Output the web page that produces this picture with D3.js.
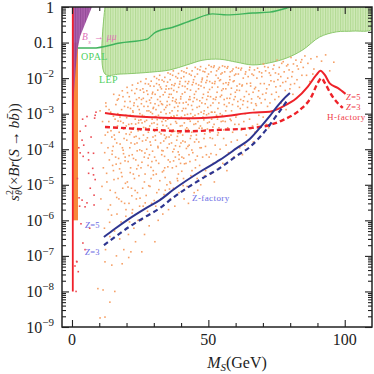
<!DOCTYPE html>
<html><head><meta charset="utf-8">
<script src="https://cdn.jsdelivr.net/npm/d3@7"></script>
<style>
body{margin:0;background:#fff}
text{font-family:"Liberation Serif","DejaVu Serif",serif}
</style>
</head><body>
<svg id="chart" width="374" height="374"></svg>
<script>
// ---- data (mass in GeV, s^2 * Br) ----
const xMajor = [0, 50, 100];
const xMinor = [10, 20, 30, 40, 60, 70, 80, 90];
const yDecades = [1e-9, 1e-8, 1e-7, 1e-6, 1e-5, 1e-4, 1e-3, 1e-2, 1e-1, 1];
const yLabels = ["−9", "−8", "−7", "−6", "−5", "−4", "−3", "−2", "0.1", "1"];

// LEP excluded region, lower edge
const lepEdge = [[12.1,1],[12.1,0.0131],[17.6,0.013],[29.7,0.0149],[35.9,0.017],[42.1,0.0235],[48,0.032],
  [54.2,0.034],[60.4,0.028],[66.3,0.0235],[72.5,0.027],[78.8,0.037],[84.6,0.062],[90.8,0.143],[97,0.2],
  [103,0.21],[110,0.24],[110,1]];
// OPAL bound
const opal = [[2.2,0.07],[7.7,0.07],[17.6,0.097],[27.5,0.125],[30.4,0.19],[37,0.27],[44.3,0.43],[51.6,0.64],
  [56.8,0.6],[66.3,0.68],[72.5,0.72],[78.8,0.94],[79.9,1]];
// Bs -> mu mu excluded region
const bsmm = [[0,1],[7.3,1],[6.8,0.8],[4.9,0.35],[3.0,0.15],[2.0,0.062],[1.4,0.02],[0.73,0.0038],[0.37,0.0013],[0,1e-3]];
// low-mass bands
const orangeBand = {m0: 0.3, m1: 2.2, top: 0.1, bottom: 1e-6};
const redBar = {m: 0.3, top: 1, bottom: 1e-8};

// H-factory reach
const hZ5 = [[12.1,1.05e-3],[17.6,9.2e-4],[29.7,7.9e-4],[42.1,7.4e-4],[54.2,8.2e-4],[66.3,1.07e-3],[72.5,1.14e-3],
  [77.3,1.58e-3],[82.3,2.7e-3],[86.4,5.7e-3],[89.6,1.23e-2],[91.1,1.62e-2],[92.7,1.23e-2],[94.5,7.1e-3],
  [97.4,5.3e-3],[100.3,3.6e-3]];
const hZ3 = [[12.1,4.2e-4],[17.6,4.0e-4],[29.7,3.5e-4],[42.1,3.2e-4],[54.2,3.5e-4],[65.2,3.9e-4],[72.5,4.8e-4],
  [77.3,6.6e-4],[83.5,1.27e-3],[87.8,3.0e-3],[90.1,7.3e-3],[91.5,1.0e-2],[92.7,7.3e-3],[95.1,3.4e-3],
  [97.4,2.0e-3],[99.3,1.45e-3]];
// Z-factory reach
const zZ5 = [[11.7,3.4e-7],[15.75,5.8e-7],[20.9,1.1e-6],[26.7,2.1e-6],[32.2,3.7e-6],[37,7.1e-6],[48,2.6e-5],
  [54.2,5.0e-5],[60.4,1.07e-4],[65.2,1.95e-4],[68.9,4.0e-4],[72.5,8.5e-4],[75.1,1.55e-3],[77.3,2.45e-3],[79.9,3.8e-3]];
const zZ3 = [[11.7,2.0e-7],[15.75,3.4e-7],[20.9,6.5e-7],[26.7,1.23e-6],[32.2,2.2e-6],[37,4.3e-6],[48,1.55e-5],
  [54.2,2.95e-5],[60.4,6.5e-5],[65.2,1.15e-4],[68.9,2.2e-4],[72.5,4.8e-4],[75.1,9.1e-4],[77.3,1.55e-3],[78.8,2.3e-3]];

// scan points, low mass (red)
const lowPts = [[3.9,7e-4],[5.5,8.3e-4],[3.0,3.2e-4],[3.7,1.8e-4],[4.3,1.3e-4],[2.5,1.1e-4],[3.0,7.9e-5],[7.9,7.7e-5],
  [6.1,5e-5],[7.6,2.9e-5],[6.1,2.1e-5],[7.9,1.9e-5],[8.5,1.4e-5],[6.7,8e-6],[3.7,3.7e-6],[5.5,3.1e-6],[8.1,5.1e-6],
  [2.6,4.3e-6],[4.8,2.4e-6],[8.1,2.7e-6],[1.8,6.8e-8],[1.1,5.2e-8],[1.7,7e-8],[2.3,3.6e-8],[1.5,1e-8],[4.0,2.3e-7],
  [4.8,1.5e-7],[4.1,6.3e-5],[6.0,8e-5],[8.5,9e-4],[8.8,1.1e-3],[8.3,7.5e-4],[5.0,4.5e-4],[7.0,2.2e-4],[2.0,1.5e-5],
  [3.3,8e-7],[6.5,6e-7],[2.8,2.5e-6]];

// scan points (orange), first pass
const scanPts = [
 [10.3,1.2e-3],[11.2,6e-4],[12.5,1.6e-3],[13.1,3e-4],[14.2,1.1e-3],[10.8,1.5e-4],[12.0,8e-5],[13.7,5e-5],[14.6,2.2e-4],
 [11.5,3e-5],[12.8,1.2e-5],[14.0,7e-6],[10.6,4e-6],[13.3,2e-6],[14.8,9e-5],[11.9,6e-7],[13.9,3.5e-7],[12.3,1.5e-7],
 [9.5,1.2e-8],[11.4,1.1e-8],[13.9,5e-9],[15.7,1e-8],[10.3,1.8e-9],[12.1,1.9e-9],[14.5,1.4e-6],[12.2,2.5e-4],[13.5,6e-4],
 [14.9,3.5e-5],[11.0,9e-6],[12.1,6.8e-8],[14.6,5.5e-8],
 [15.3,3.5e-3],[16.1,1.8e-3],[17.0,2.6e-3],[18.2,1.3e-3],[19.4,2.2e-3],[15.8,7e-4],[16.7,4.5e-4],[17.6,8e-4],[18.8,5.5e-4],
 [19.7,9e-4],[15.5,2.5e-4],[16.4,1.5e-4],[17.3,3e-4],[18.5,1.1e-4],[19.1,2e-4],[16.0,6e-5],[17.8,4e-5],[18.9,7.5e-5],
 [15.2,2.5e-5],[16.9,1.5e-5],[18.1,2.2e-5],[19.6,1.1e-5],[15.9,6e-6],[17.2,4e-6],[18.6,8e-6],[19.3,3e-6],[16.5,1.5e-6],
 [18.0,9e-7],[19.8,2e-6],[15.6,5e-7],[17.5,3e-7],[19.0,1.5e-7],[16.3,1e-7],[18.4,6e-8],[17.1,5.5e-5],[19.9,4.5e-4],
 [16.8,1e-3],[18.7,3e-3],[15.1,1.2e-4],[19.5,6e-5],[20.8,9e-8],
 [20.2,5.5e-3],[21.0,3e-3],[21.9,4.5e-3],[22.8,2e-3],[23.7,5e-3],[24.6,2.8e-3],[20.5,1.5e-3],[21.4,9e-4],[22.3,1.2e-3],
 [23.2,7e-4],[24.1,1.6e-3],[24.9,1e-3],[20.8,5e-4],[21.7,3e-4],[22.6,4e-4],[23.5,2.3e-4],[24.4,5.5e-4],[20.1,1.8e-4],
 [21.2,1.1e-4],[22.1,7e-5],[23.0,1.4e-4],[23.9,9e-5],[24.7,2e-4],[20.6,4.5e-5],[21.5,3e-5],[22.5,2e-5],[23.4,5e-5],
 [24.3,3.5e-5],[20.3,1.2e-5],[21.8,8e-6],[22.9,1.5e-5],[24.0,6e-6],[20.9,3e-6],[22.2,2e-6],[23.6,4e-6],[24.8,2.5e-6],
 [21.1,9e-7],[22.7,6e-7],[24.2,1e-6],[20.7,4e-7],[23.3,2.5e-7],[21.6,1.3e-7],[22.4,1.1e-3],[24.5,6.5e-4],[21.3,2.2e-3],
 [25.6,1.3e-7],
 [25.2,8e-3],[26.0,5e-3],[26.9,7e-3],[27.8,3.5e-3],[28.7,6e-3],[29.6,4e-3],[25.5,2.5e-3],[26.4,1.6e-3],[27.3,2.2e-3],
 [28.2,1.2e-3],[29.1,2.8e-3],[29.9,1.5e-3],[25.8,9e-4],[26.7,6e-4],[27.6,8e-4],[28.5,4.5e-4],[29.4,7e-4],[25.1,3.5e-4],
 [26.2,2.5e-4],[27.1,1.8e-4],[28.0,3e-4],[28.9,1.3e-4],[29.7,2.2e-4],[25.6,9e-5],[26.5,6e-5],[27.4,1e-4],[28.4,7e-5],
 [29.3,4.5e-5],[25.3,3e-5],[26.8,2e-5],[27.9,3.5e-5],[29.0,1.5e-5],[29.8,2.5e-5],[25.9,8e-6],[27.2,5e-6],[28.6,9e-6],
 [26.1,2.5e-6],[27.7,1.8e-6],[29.2,3e-6],[25.4,1e-6],[28.3,7e-7],[26.6,4e-7],[27.5,1.2e-3],[28.8,2e-3],[26.3,4e-3],
 [29.5,1e-3],[25.7,5.5e-4],[27.0,4e-4],[30.4,2.5e-7],
 [30.2,1.1e-2],[31.0,7e-3],[31.9,9e-3],[32.8,5e-3],[33.7,8e-3],[34.6,6e-3],[30.5,3.5e-3],[31.4,2.5e-3],[32.3,3e-3],
 [33.2,1.8e-3],[34.1,4e-3],[34.9,2.2e-3],[30.8,1.3e-3],[31.7,9e-4],[32.6,1.1e-3],[33.5,7e-4],[34.4,1.5e-3],[30.1,5.5e-4],
 [31.2,4e-4],[32.1,3e-4],[33.0,6e-4],[33.9,2.5e-4],[34.7,4.5e-4],[30.6,1.8e-4],[31.5,1.2e-4],[32.5,1.5e-4],[33.4,9e-5],
 [34.3,2e-4],[30.3,6e-5],[31.8,4e-5],[32.9,7e-5],[34.0,3e-5],[30.9,2e-5],[32.2,1.3e-5],[33.6,2.5e-5],[34.8,1e-5],
 [31.1,6e-6],[32.7,4e-6],[34.2,7e-6],[30.7,2.5e-6],[33.3,1.5e-6],[31.6,1e-6],[32.4,2.2e-3],[34.5,1e-3],[31.3,5e-4],
 [33.8,3.5e-4],[30.4,8e-4],[32.0,6.5e-3],
 [35.2,1.4e-2],[36.0,9e-3],[36.9,1.2e-2],[37.8,7e-3],[38.7,1e-2],[39.6,8e-3],[35.5,5e-3],[36.4,3.5e-3],[37.3,4.5e-3],
 [38.2,2.5e-3],[39.1,5.5e-3],[39.9,3e-3],[35.8,1.8e-3],[36.7,1.2e-3],[37.6,1.5e-3],[38.5,9e-4],[39.4,2e-3],[35.1,7e-4],
 [36.2,5e-4],[37.1,3.5e-4],[38.0,6e-4],[38.9,2.8e-4],[39.7,4.5e-4],[35.6,2.2e-4],[36.5,1.5e-4],[37.4,1e-4],[38.4,1.8e-4],
 [39.3,7e-5],[35.3,5e-5],[36.8,3e-5],[37.9,6e-5],[39.0,2e-5],[39.8,4e-5],[35.9,1.2e-5],[37.2,8e-6],[38.6,1.5e-5],
 [36.1,4e-6],[37.7,2.5e-6],[39.2,6e-6],[35.4,2e-6],[38.3,2e-3],[36.6,6.5e-3],[37.5,8e-4],[38.8,1.2e-3],[36.3,2.5e-4],
 [39.5,1.2e-4],[35.7,3.5e-3],[37.0,2.8e-3],
 [40.2,1.6e-2],[41.0,1.1e-2],[41.9,1.4e-2],[42.8,8e-3],[43.7,1.2e-2],[44.6,9e-3],[40.5,6e-3],[41.4,4e-3],[42.3,5e-3],
 [43.2,3e-3],[44.1,6.5e-3],[44.9,3.5e-3],[40.8,2e-3],[41.7,1.4e-3],[42.6,1.8e-3],[43.5,1e-3],[44.4,2.2e-3],[40.1,8e-4],
 [41.2,5.5e-4],[42.1,4e-4],[43.0,7e-4],[43.9,3e-4],[44.7,5e-4],[40.6,2.5e-4],[41.5,1.6e-4],[42.5,1.2e-4],[43.4,2e-4],
 [44.3,8e-5],[40.3,6e-5],[41.8,4e-5],[42.9,7e-5],[44.0,2.5e-5],[40.9,1.5e-5],[42.2,9e-6],[43.6,1.8e-5],[44.8,6e-6],
 [41.1,4e-6],[42.7,3e-6],[43.3,2.5e-3],[40.4,1.2e-3],[41.6,8e-3],[44.2,1.3e-3],[42.4,7e-4],
 [45.2,2e-2],[46.0,1.3e-2],[46.9,1.7e-2],[47.8,1e-2],[48.7,1.5e-2],[49.6,1.1e-2],[45.5,7e-3],[46.4,5e-3],[47.3,6e-3],
 [48.2,3.5e-3],[49.1,7.5e-3],[49.9,4e-3],[45.8,2.5e-3],[46.7,1.6e-3],[47.6,2e-3],[48.5,1.2e-3],[49.4,2.5e-3],[45.1,9e-4],
 [46.2,6e-4],[47.1,4.5e-4],[48.0,8e-4],[48.9,3.5e-4],[49.7,5.5e-4],[45.6,2.5e-4],[46.5,1.6e-4],[47.4,1.1e-4],[48.4,2e-4],
 [49.3,7e-5],[45.3,5e-5],[46.8,3.5e-5],[47.9,6e-5],[49.0,2.5e-5],[45.9,1.5e-5],[47.2,1e-5],[48.6,1.8e-5],[46.1,7e-6],
 [47.7,9e-3],[48.3,1e-3],[49.8,1.5e-3],
 [50.2,2.3e-2],[51.0,1.5e-2],[51.9,2e-2],[52.8,1.2e-2],[53.7,1.8e-2],[54.6,1.3e-2],[50.5,8e-3],[51.4,5.5e-3],[52.3,7e-3],
 [53.2,4e-3],[54.1,8.5e-3],[54.9,4.5e-3],[50.8,3e-3],[51.7,2e-3],[52.6,2.5e-3],[53.5,1.4e-3],[54.4,3e-3],[50.1,1e-3],
 [51.2,7e-4],[52.1,5e-4],[53.0,9e-4],[53.9,4e-4],[54.7,6e-4],[50.6,3e-4],[51.5,2e-4],[52.5,1.3e-4],[53.4,2.5e-4],
 [54.3,1e-4],[50.3,6e-5],[51.8,4e-5],[52.9,7e-5],[54.0,3e-5],[50.9,2e-5],[52.2,1.2e-5],[53.6,1e-2],[51.1,1.1e-3],
 [55.2,2.2e-2],[56.0,1.5e-2],[56.9,1.9e-2],[57.8,1.1e-2],[58.7,1.6e-2],[59.6,1.2e-2],[55.5,7e-3],[56.4,5e-3],[57.3,6.5e-3],
 [58.2,3.5e-3],[59.1,8e-3],[59.9,4e-3],[55.8,2.5e-3],[56.7,1.6e-3],[57.6,2e-3],[58.5,1.2e-3],[59.4,2.5e-3],[55.1,9e-4],
 [56.2,6e-4],[57.1,4e-4],[58.0,7e-4],[58.9,3e-4],[59.7,5e-4],[55.6,2e-4],[56.5,1.3e-4],[57.4,8e-5],[58.4,1.6e-4],
 [59.3,6e-5],[55.3,4e-5],[56.8,2.5e-5],[57.9,9e-3],
 [60.2,2e-2],[61.0,1.3e-2],[61.9,1.7e-2],[62.8,1e-2],[63.7,1.5e-2],[64.6,1.1e-2],[60.5,6e-3],[61.4,4.5e-3],[62.3,6e-3],
 [63.2,3e-3],[64.1,7e-3],[64.9,3.5e-3],[60.8,2.2e-3],[61.7,1.4e-3],[62.6,1.8e-3],[63.5,1e-3],[64.4,2.2e-3],[60.1,8e-4],
 [61.2,5e-4],[62.1,3.5e-4],[63.0,6e-4],[63.9,2.5e-4],[64.7,4e-4],[60.6,1.8e-4],[61.5,1.1e-4],[62.5,7e-5],[63.4,1.3e-4],
 [65.2,2e-2],[66.0,1.3e-2],[66.9,1.7e-2],[67.8,1e-2],[68.7,1.5e-2],[69.6,1.1e-2],[65.5,6e-3],[66.4,4e-3],[67.3,5.5e-3],
 [68.2,3e-3],[69.1,7e-3],[69.9,3.5e-3],[65.8,2e-3],[66.7,1.3e-3],[67.6,1.7e-3],[68.5,9e-4],[69.4,2e-3],[65.1,7e-4],
 [66.2,4.5e-4],[67.1,3e-4],[68.0,5e-4],[68.9,2.2e-4],[66.5,1.6e-4],
 [70.2,2.5e-2],[71.0,1.6e-2],[71.9,2e-2],[72.8,1.2e-2],[73.7,1.8e-2],[74.6,1.4e-2],[70.5,7e-3],[71.4,5e-3],[72.3,6.5e-3],
 [73.2,3.5e-3],[74.1,8e-3],[74.9,4e-3],[70.8,2.5e-3],[71.7,1.6e-3],[72.6,2e-3],[73.5,1.1e-3],[74.4,2.5e-3],[70.1,8e-4],
 [71.2,5e-4],[72.1,4e-4],
 [75.2,3.2e-2],[76.0,2e-2],[76.9,2.6e-2],[77.8,1.5e-2],[78.7,2.2e-2],[79.6,1.7e-2],[75.5,9e-3],[76.4,6e-3],[77.3,7.5e-3],
 [78.2,4.5e-3],[79.1,1e-2],[79.9,5e-3],[75.8,3e-3],[76.7,2e-3],[77.6,2.5e-3],[78.5,1.3e-3],
 [80.3,3.8e-2],[81.2,2.5e-2],[82.1,3.2e-2],[83.0,1.8e-2],[83.9,2.8e-2],[84.8,2e-2],[80.6,1.1e-2],[81.6,7e-3],[82.5,9e-3],
 [83.4,5.5e-3],[84.3,1.2e-2],[81.0,3.5e-3],
 [85.4,4.2e-2],[86.5,2.6e-2],[87.6,3.5e-2],[88.7,1.8e-2],[89.8,4e-2],[86.0,1.2e-2],[87.2,8e-3],[88.3,1.3e-2],[91.5,3e-2],
 [93.0,4.5e-2],[94.5,1.6e-2],[96.0,2.8e-2]
];

// scan points (orange), second pass over the dense band
const scanPts2 = [
 [12.4,2e-3],[13.6,1.3e-3],[15.2,8.5e-4],[16.6,2.4e-3],[12.9,4.2e-4],[14.3,3.3e-4],[15.7,1.9e-4],[16.9,6.2e-4],[13.2,1.1e-4],
 [14.7,7.2e-5],[16.2,3.8e-5],[12.7,2.1e-5],[15.4,1.4e-5],[16.4,4.4e-6],[14.1,2.7e-6],[13.8,8.8e-7],
 [17.35,3.3e-3],[18.45,4.4e-3],[19.25,1.6e-3],[20.35,3.9e-3],[21.45,1.4e-3],[17.85,6.1e-4],[18.95,3.7e-4],[20.05,7.7e-4],
 [21.15,2.6e-4],[21.85,5.2e-4],[17.65,1.4e-4],[18.75,9.4e-5],[19.85,2.7e-4],[20.95,6.6e-5],[21.65,1.5e-4],[17.45,2.8e-5],
 [18.35,1.7e-5],[19.45,4.7e-5],[20.55,8.6e-6],[21.35,2.2e-5],[18.15,3.4e-6],[19.75,1.3e-6],[21.95,4.9e-6],
 [22.15,6.4e-3],[23.05,3.7e-3],[24.15,7.2e-3],[25.05,4.6e-3],[26.15,2.7e-3],[22.65,1.7e-3],[23.65,2.5e-3],[24.65,1.3e-3],
 [25.45,1.9e-3],[26.45,8.4e-4],[22.35,8.7e-4],[23.35,5.1e-4],[24.25,3.3e-4],[25.25,6.7e-4],[26.25,4.1e-4],[22.85,2.2e-4],
 [23.85,1.5e-4],[24.85,9.6e-5],[25.85,1.7e-4],[26.75,7.8e-5],[22.55,5.5e-5],[23.75,2.8e-5],[24.55,1.8e-5],[25.65,4.3e-5],
 [26.55,1.2e-5],[23.15,6.9e-6],[24.95,4.2e-6],[26.85,3.1e-6],[22.05,1.6e-6],
 [27.15,9.5e-3],[28.05,6.8e-3],[29.05,8.2e-3],[30.05,5.9e-3],[31.05,9.8e-3],[27.45,4.4e-3],[28.45,2.4e-3],[29.45,3.6e-3],
 [30.45,1.9e-3],[31.45,4.6e-3],[27.85,1.6e-3],[28.85,1.1e-3],[29.75,1.4e-3],[30.75,8.3e-4],[31.75,1.7e-3],[27.35,6.5e-4],
 [28.25,3.8e-4],[29.25,5.3e-4],[30.25,3.2e-4],[31.25,6.8e-4],[27.65,2.1e-4],[28.65,1.6e-4],[29.55,8.8e-5],[30.55,2.4e-4],
 [31.55,1.1e-4],[27.95,5.6e-5],[28.95,3.1e-5],[29.85,1.9e-5],[30.85,4.8e-5],[31.85,7.3e-6],[28.15,9.4e-6],[30.15,3.6e-6],
 [32.15,1.2e-2],[33.05,8.8e-3],[34.05,1.05e-2],[35.05,7.7e-3],[36.05,1.3e-2],[32.45,5.6e-3],[33.45,3.4e-3],[34.45,4.9e-3],
 [35.45,2.9e-3],[36.45,5.1e-3],[32.85,1.9e-3],[33.85,1.3e-3],[34.85,1.7e-3],[35.85,1.05e-3],[36.85,2.3e-3],[32.35,7.4e-4],
 [33.35,4.7e-4],[34.35,6.3e-4],[35.35,3.9e-4],[36.35,8.2e-4],[32.65,2.7e-4],[33.65,1.7e-4],[34.65,2.2e-4],[35.65,1.4e-4],
 [36.65,3.1e-4],[32.95,9.2e-5],[33.95,6.3e-5],[34.95,1.1e-4],[35.95,4.4e-5],[36.95,8.5e-5],[33.15,2.3e-5],[34.15,1.6e-5],
 [35.15,3.2e-5],[36.15,1.1e-5],[33.75,5.3e-6],[35.75,7.6e-6],
 [37.15,1.6e-2],[38.05,1.1e-2],[39.05,1.35e-2],[40.05,1e-2],[41.05,1.5e-2],[37.45,6.2e-3],[38.45,4.1e-3],[39.45,6.8e-3],
 [40.45,3.6e-3],[41.45,5.8e-3],[37.85,2.2e-3],[38.85,1.6e-3],[39.85,2.6e-3],[40.85,1.4e-3],[41.85,2.1e-3],[37.35,8.6e-4],
 [38.35,5.4e-4],[39.35,7.3e-4],[40.35,4.6e-4],[41.35,9.1e-4],[37.65,3.2e-4],[38.65,2.3e-4],[39.65,2.9e-4],[40.65,1.7e-4],
 [41.65,3.6e-4],[37.95,1.25e-4],[38.95,8.4e-5],[39.95,1.5e-4],[40.95,5.6e-5],[41.95,1.05e-4],[37.25,4.7e-5],[38.25,3.3e-5],
 [39.25,5.2e-5],[40.25,2.4e-5],[41.25,3.9e-5],[38.75,1.3e-5],[40.75,9.5e-6],
 [42.15,1.9e-2],[43.05,1.3e-2],[44.05,1.6e-2],[45.05,1.1e-2],[46.05,1.8e-2],[42.45,7e-3],[43.45,4.6e-3],[44.45,7.6e-3],
 [45.45,4.2e-3],[46.45,6.4e-3],[42.85,2.5e-3],[43.85,1.7e-3],[44.85,2.8e-3],[45.85,1.5e-3],[46.85,2.3e-3],[42.35,9.6e-4],
 [43.35,6.1e-4],[44.35,8.2e-4],[45.35,5.2e-4],[46.35,9.9e-4],[42.65,3.6e-4],[43.65,2.4e-4],[44.65,3.3e-4],[45.65,1.9e-4],
 [46.65,3.9e-4],[42.95,1.3e-4],[43.95,9.5e-5],[44.95,1.6e-4],[45.95,6.4e-5],[46.95,1.1e-4],[43.25,4.5e-5],[45.25,3e-5],
 [47.15,2.1e-2],[48.05,1.55e-2],[49.05,1.85e-2],[50.05,1.3e-2],[51.05,2.1e-2],[47.45,7.8e-3],[48.45,5.4e-3],[49.45,8.6e-3],
 [50.45,4.8e-3],[51.45,7.2e-3],[47.85,2.8e-3],[48.85,1.9e-3],[49.85,3.1e-3],[50.85,1.7e-3],[51.85,2.6e-3],[47.35,1.1e-3],
 [48.35,6.7e-4],[49.35,9.3e-4],[50.35,5.8e-4],[51.35,1.1e-3],[47.65,3.9e-4],[48.65,2.7e-4],[49.65,3.7e-4],[50.65,2.1e-4],
 [51.65,4.2e-4],[48.95,1.2e-4],[50.95,7.5e-5],
 [52.15,2.2e-2],[53.05,1.6e-2],[54.05,2e-2],[55.05,1.4e-2],[56.05,2.1e-2],[52.45,8e-3],[53.45,5.6e-3],[54.45,9e-3],
 [55.45,5e-3],[56.45,7.4e-3],[52.85,2.9e-3],[53.85,2e-3],[54.85,3.3e-3],[55.85,1.8e-3],[56.85,2.7e-3],[52.35,1.1e-3],
 [53.35,7e-4],[54.35,1e-3],[55.35,6.2e-4],[56.35,1.2e-3],[53.65,2.9e-4],[55.65,3.5e-4],
 [57.15,2.1e-2],[58.05,1.5e-2],[59.05,1.8e-2],[60.05,1.3e-2],[61.05,1.9e-2],[57.45,7.4e-3],[58.45,5.2e-3],[59.45,8.4e-3],
 [60.45,4.6e-3],[61.45,6.8e-3],[57.85,2.7e-3],[58.85,1.8e-3],[59.85,3e-3],[60.85,1.6e-3],[61.85,2.5e-3],[58.35,6.4e-4],
 [60.35,9.2e-4],
 [62.15,1.9e-2],[63.55,1.3e-2],[65.05,1.7e-2],[66.55,1.2e-2],[68.05,1.9e-2],[69.55,1.4e-2],[62.45,6.4e-3],[63.95,4.2e-3],
 [65.45,7.2e-3],[66.95,5e-3],[68.45,4.4e-3],[62.85,2.3e-3],[64.35,1.5e-3],[65.85,2.6e-3],[67.35,1.9e-3],[68.85,2.7e-3],
 [70.65,2.1e-2],[72.35,1.4e-2],[74.05,2.3e-2],[75.75,1.3e-2],[77.45,2.9e-2],[79.15,2.4e-2],[80.85,1.5e-2],[82.55,2.2e-2],
 [84.25,3.3e-2],[71.15,3.8e-3],[72.95,8.4e-3],[74.75,5.7e-3],[76.55,1.1e-2],[78.35,8e-3],[80.15,6.6e-3]
];

// ---- scales ----
const svg = d3.select("#chart");
const L = 62, R = 372, T = 7, B = 327;
const x = d3.scaleLinear().domain([-3.66, 110]).range([L, R]);
const y = d3.scaleLog().domain([1e-9, 1]).range([B, T]);

const defs = svg.append("defs");
defs.append("clipPath").attr("id", "plot").append("rect")
    .attr("x", L).attr("y", T).attr("width", R - L).attr("height", B - T);
let gp = defs.append("pattern").attr("id", "lepHatch").attr("patternUnits", "userSpaceOnUse")
    .attr("width", 2.5).attr("height", 10);
gp.append("rect").attr("width", 2.5).attr("height", 10).attr("fill", "#cfe9b8");
gp.append("rect").attr("width", 1).attr("height", 10).attr("fill", "#b2da93");
let pp = defs.append("pattern").attr("id", "bsHatch").attr("patternUnits", "userSpaceOnUse")
    .attr("width", 2.5).attr("height", 10);
pp.append("rect").attr("width", 2.5).attr("height", 10).attr("fill", "#a453a6");
pp.append("rect").attr("width", 1).attr("height", 10).attr("fill", "#8a3b8e");

const plot = svg.append("g").attr("clip-path", "url(#plot)");
const smooth = d3.line().x(d => x(d[0])).y(d => y(d[1])).curve(d3.curveMonotoneX);
const rounded = d3.line().x(d => x(d[0])).y(d => y(d[1])).curve(d3.curveCatmullRom);

// LEP region
plot.append("path").attr("d", rounded(lepEdge) + "Z")
    .attr("fill", "url(#lepHatch)").attr("stroke", "#8cc86c").attr("stroke-width", 1);

// orange band at low mass
plot.append("rect")
    .attr("x", x(orangeBand.m0)).attr("width", x(orangeBand.m1) - x(orangeBand.m0))
    .attr("y", y(orangeBand.top)).attr("height", y(orangeBand.bottom) - y(orangeBand.top))
    .attr("fill", "#f7883a");

// Bs -> mu mu region
plot.append("path").attr("d", d3.line().x(d => x(d[0])).y(d => y(d[1]))(bsmm) + "Z")
    .attr("fill", "url(#bsHatch)").attr("opacity", 0.92);

// red vertical bar
plot.append("line")
    .attr("x1", x(redBar.m)).attr("x2", x(redBar.m))
    .attr("y1", y(redBar.top)).attr("y2", y(redBar.bottom))
    .attr("stroke", "#f0202a").attr("stroke-width", 1.8);

// scan points
plot.selectAll("rect.scan").data(scanPts.concat(scanPts2)).enter().append("rect").attr("class", "scan")
    .attr("x", d => x(d[0]) - 0.8).attr("y", d => y(d[1]) - 0.8)
    .attr("width", 1.6).attr("height", 1.6).attr("fill", "#f6a066");
plot.selectAll("rect.low").data(lowPts).enter().append("rect").attr("class", "low")
    .attr("x", d => x(d[0]) - 0.8).attr("y", d => y(d[1]) - 0.8)
    .attr("width", 1.6).attr("height", 1.6).attr("fill", "#ec4a52");

// OPAL line
plot.append("path").datum(opal).attr("d", smooth)
    .attr("fill", "none").attr("stroke", "#3fb35c").attr("stroke-width", 1.4);

// H-factory curves
plot.append("path").datum(hZ5).attr("d", smooth)
    .attr("fill", "none").attr("stroke", "#ee2229").attr("stroke-width", 2);
plot.append("path").datum(hZ3).attr("d", smooth)
    .attr("fill", "none").attr("stroke", "#ee2229").attr("stroke-width", 2.4).attr("stroke-dasharray", "5,3");

// Z-factory curves
plot.append("path").datum(zZ5).attr("d", smooth)
    .attr("fill", "none").attr("stroke", "#2e3590").attr("stroke-width", 2);
plot.append("path").datum(zZ3).attr("d", smooth)
    .attr("fill", "none").attr("stroke", "#2e3590").attr("stroke-width", 2.2).attr("stroke-dasharray", "5,3.5");

// ---- annotations ----
function note(px, py, color, parts, size) {
    let t = svg.append("text").attr("x", px).attr("y", py).attr("fill", color)
        .attr("font-size", size || 9).attr("letter-spacing", 0.4);
    parts.forEach(p => {
        let s = t.append("tspan").text(p.t);
        if (p.i) s.attr("font-style", "italic");
        if (p.sub) s.attr("baseline-shift", "sub").attr("font-size", (size || 9) * 0.7);
    });
    return t;
}
note(82, 40, "#e070b8", [{t: "B", i: 1}, {t: "s", i: 1, sub: 1}, {t: " → "}, {t: "μμ", i: 1}], 9.5);
note(81, 60, "#4fcf62", [{t: "OPAL"}], 10);
note(99, 83, "#4fcf62", [{t: "LEP"}], 10);
note(346, 100, "#f0404a", [{t: "Z", i: 1}, {t: "=5"}], 8.5);
note(346, 109.5, "#f0404a", [{t: "Z", i: 1}, {t: "=3"}], 8.5);
note(327, 119.5, "#f0404a", [{t: "H-factory"}], 9);
note(85, 228, "#6a6ae4", [{t: "Z", i: 1}, {t: "=5"}], 8.5);
note(85, 255, "#6a6ae4", [{t: "Z", i: 1}, {t: "=3"}], 8.5);
note(192, 201, "#6a6ae4", [{t: "Z-factory"}], 9);

// ---- axes ----
let yMinor = [];
yDecades.slice(0, -1).forEach(d => { for (let k = 2; k <= 9; k++) yMinor.push(d * k); });

function ticks(axis, tr, size, vals) {
    svg.append("g").attr("transform", tr)
        .call(axis.tickValues(vals).tickSize(size).tickFormat(""))
        .call(g => g.select(".domain").remove())
        .call(g => g.selectAll("line").attr("stroke", "#222").attr("stroke-width", 1.1));
}
ticks(d3.axisTop(x), `translate(0,${B})`, 7, xMajor);
ticks(d3.axisTop(x), `translate(0,${B})`, 4, xMinor);
ticks(d3.axisBottom(x), `translate(0,${T})`, 7, xMajor);
ticks(d3.axisBottom(x), `translate(0,${T})`, 4, xMinor);
ticks(d3.axisRight(y), `translate(${L},0)`, 7, yDecades);
ticks(d3.axisRight(y), `translate(${L},0)`, 4, yMinor);
ticks(d3.axisLeft(y), `translate(${R},0)`, 7, yDecades);
ticks(d3.axisLeft(y), `translate(${R},0)`, 4, yMinor);

svg.append("rect").attr("x", L).attr("y", T).attr("width", R - L).attr("height", B - T)
    .attr("fill", "none").attr("stroke", "#222").attr("stroke-width", 1.5);

// tick labels
xMajor.forEach(v => svg.append("text").attr("x", x(v)).attr("y", B + 18)
    .attr("text-anchor", "middle").attr("font-size", 16).attr("fill", "#222").text(v));
yDecades.forEach((v, i) => {
    let t = svg.append("text").attr("x", 54).attr("y", y(v) + 5.5)
        .attr("text-anchor", "end").attr("font-size", 16).attr("fill", "#222");
    if (v >= 0.1) { t.text(yLabels[i]); return; }
    t.append("tspan").text("10");
    t.append("tspan").attr("dy", -6.5).attr("font-size", 11).text(yLabels[i]);
});

// axis titles
let xt = svg.append("text").attr("x", 237).attr("y", 368).attr("text-anchor", "middle")
    .attr("font-size", 16).attr("fill", "#222");
xt.append("tspan").attr("font-style", "italic").text("M");
xt.append("tspan").attr("font-style", "italic").attr("font-size", 11).attr("dy", 3).text("S");
xt.append("tspan").attr("dy", -3).text("(GeV)");

let yt = svg.append("text").attr("transform", "translate(19,152) rotate(-90)")
    .attr("text-anchor", "middle").attr("font-size", 15).attr("fill", "#222");
yt.append("tspan").attr("font-style", "italic").text("s");
yt.append("tspan").attr("font-size", 10).attr("dy", -6).text("2");
yt.append("tspan").attr("font-size", 10).attr("font-style", "italic").attr("dx", -5).attr("dy", 9).text("θ");
yt.append("tspan").attr("dy", -3).text("(×");
yt.append("tspan").attr("font-style", "italic").text("Br");
yt.append("tspan").text("(");
yt.append("tspan").attr("font-style", "italic").text("S");
yt.append("tspan").text("\u2009→\u2009");
yt.append("tspan").attr("font-style", "italic").text("bb\u0304");
yt.append("tspan").text("))");
</script>
</body></html>
